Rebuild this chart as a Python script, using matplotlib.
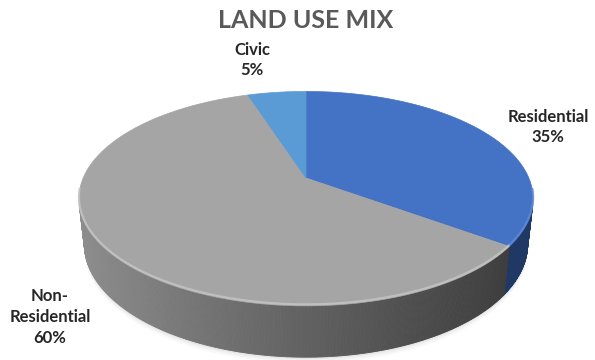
import numpy as np
import matplotlib.pyplot as plt
from matplotlib.patches import Polygon

# pie data
labels = ["Residential", "Non-\nResidential", "Civic"]
shares = [35, 60, 5]
top_colors = ["#4472C4", "#A5A5A5", "#5B9BD5"]
side_colors = ["#1F3864", None, "#2E5F9A"]  # None -> grey gradient
label_pos = [(548, 127), (50, 317), (252, 60)]

# simple perspective camera for the 3d disc
PHI = np.radians(27.6)
L = 4.6
H = 0.231
F = 1025.0
CX, CY = 306, 178


def project(X, Y, Z):
    rel_y = Y + L * np.cos(PHI)
    rel_z = Z - L * np.sin(PHI)
    depth = rel_y * np.cos(PHI) - rel_z * np.sin(PHI)
    v = rel_y * np.sin(PHI) + rel_z * np.cos(PHI)
    return CX + F * X / depth, CY - F * v / depth, depth


def arc(a0, a1, z, n=120):
    th = np.radians(np.linspace(a0, a1, n))
    return project(np.cos(th), np.sin(th), z)


fig = plt.figure(figsize=(5.95, 3.6), dpi=100)
ax = fig.add_axes([0, 0, 1, 1])
ax.set_xlim(0, 595)
ax.set_ylim(360, 0)
ax.axis("off")

# slice boundaries, clockwise from 12 o'clock
bounds = 90 - 360 * np.concatenate([[0], np.cumsum(shares)]) / 100.0
vis_lo = -180 + np.degrees(np.arcsin(1.0 / (L * np.cos(PHI))))
vis_hi = -np.degrees(np.arcsin(1.0 / (L * np.cos(PHI))))

# soft shadow under the disc
for k, a in zip([6, 4, 2], [0.10, 0.15, 0.25]):
    sx, sy, _ = arc(vis_lo - 5, vis_hi + 5, -H, 200)
    tx, ty, _ = arc(vis_hi + 5, vis_lo - 5 + 360, -H, 200)
    xs = np.concatenate([sx, tx])
    ys = np.concatenate([sy + k, ty])
    ax.add_patch(Polygon(np.column_stack([xs, ys]), closed=True,
                         facecolor="#c8c8c8", edgecolor="none", alpha=a, zorder=0))

# side walls
quads = []
for i in range(len(shares)):
    a0, a1 = bounds[i], bounds[i + 1]
    hi = min(a0, vis_hi)
    lo = max(a1, vis_lo)
    if hi <= lo:
        continue
    th = np.linspace(hi, lo, int((hi - lo) * 2) + 2)
    for t0, t1 in zip(th[:-1], th[1:]):
        x0, y0, d0 = project(np.cos(np.radians(t0)), np.sin(np.radians(t0)), 0)
        x1, y1, d1 = project(np.cos(np.radians(t1)), np.sin(np.radians(t1)), 0)
        x2, y2, _ = project(np.cos(np.radians(t1)), np.sin(np.radians(t1)), -H)
        x3, y3, _ = project(np.cos(np.radians(t0)), np.sin(np.radians(t0)), -H)
        xm = (x0 + x1) / 2
        if side_colors[i] is None:
            t = np.clip((xm - 80) / (509 - 80), 0, 1)
            g = (142 - 80 * t ** 0.9) / 255.0
            col = (g, g, g)
        else:
            col = side_colors[i]
        quads.append(((d0 + d1) / 2, [(x0, y0), (x1, y1), (x2, y2), (x3, y3)], col))

for d, pts, col in sorted(quads, key=lambda q: -q[0]):
    ax.add_patch(Polygon(pts, closed=True, facecolor=col, edgecolor=col,
                         linewidth=0.6, zorder=1))

# top face wedges
for i in range(len(shares)):
    a0, a1 = bounds[i], bounds[i + 1]
    xs, ys, _ = arc(a0, a1, 0, 200)
    cx, cy, _ = project(0, 0, 0)
    pts = np.column_stack([np.r_[cx, xs], np.r_[cy, ys]])
    ax.add_patch(Polygon(pts, closed=True, facecolor=top_colors[i],
                         edgecolor=top_colors[i], linewidth=0.5, zorder=2))

# bevel highlight on front rim
for i in range(len(shares)):
    hi = min(bounds[i], vis_hi + 8)
    lo = max(bounds[i + 1], vis_lo - 8)
    if hi <= lo:
        continue
    xs, ys, _ = arc(hi, lo, 0, 150)
    hl = "#c6c6c6" if i == 1 else "#5f8ad6"
    ax.plot(xs, ys - 1.5, color=hl, lw=1.6, alpha=0.8, zorder=3,
            solid_capstyle="butt")

# title and labels
ax.text(306, 21, "LAND USE MIX", ha="center", va="center", fontsize=18,
        fontweight="bold", color="#595959", family="Lato")
for (x, y), lab, s in zip(label_pos, labels, shares):
    ax.text(x, y, "{}\n{}%".format(lab, s), ha="center", va="center",
            fontsize=12, fontweight="bold", color="#262626", family="Lato",
            linespacing=1.35)

plt.savefig("out.png", dpi=100)
